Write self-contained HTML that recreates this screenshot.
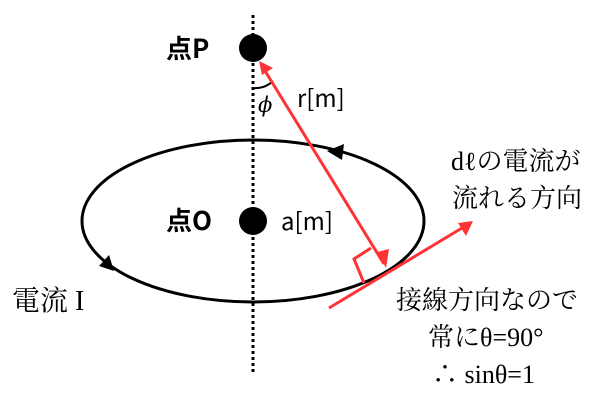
<!DOCTYPE html>
<html><head><meta charset="utf-8"><style>
html,body{margin:0;padding:0;background:#fff;width:605px;height:405px;overflow:hidden}
</style></head><body>
<svg width="605" height="405" viewBox="0 0 605 405" xmlns="http://www.w3.org/2000/svg">
<line x1="253" y1="15" x2="253" y2="372" stroke="#000" stroke-width="3" stroke-dasharray="3,3"/>
<ellipse cx="253" cy="221" rx="171" ry="81" fill="none" stroke="#000" stroke-width="3"/>
<path d="M327,151 L344,144 L342,160 z" fill="#000"/>
<path d="M114,271 L99,266 L109,255 z" fill="#000"/>
<circle cx="253" cy="48" r="14" fill="#000"/>
<circle cx="253" cy="221" r="14" fill="#000"/>
<path d="M253,88 A26,26 0 0 0 273,81" fill="none" stroke="#000" stroke-width="2"/>
<line x1="384" y1="264" x2="262" y2="66" stroke="#ff3333" stroke-width="3"/>
<path d="M259,61 L273,68 L262,75 z" fill="#ff3333"/>
<path d="M386,268 L377,252 L389,249 z" fill="#ff3333"/>
<line x1="329" y1="308" x2="462" y2="228" stroke="#ff3333" stroke-width="3"/>
<path d="M473,221 L458,223 L466,236 z" fill="#ff3333"/>
<polyline points="371,248 354,259 364,283" fill="none" stroke="#ff3333" stroke-width="3"/>
<g font-family="'Noto Sans CJK JP','Liberation Sans',sans-serif" fill="#000">
<text x="166" y="58" font-size="26" font-weight="bold">点P</text>
<text x="166" y="230" font-size="26" font-weight="bold">点O</text>
<text x="297" y="107" font-size="24">r[m]</text>
<text x="281" y="230" font-size="24">a[m]</text>
<text x="258" y="112" font-size="21" font-style="italic" font-family="'DejaVu Serif',serif">ϕ</text>
</g>
<g font-family="'Liberation Serif','Noto Serif CJK SC',serif" fill="#000">
<text x="12" y="310" font-size="28">電流 I</text>
<text x="451" y="170" font-size="26">dℓの電流が</text>
<text x="452" y="207" font-size="26">流れる方向</text>
<text x="396" y="309" font-size="26">接線方向なので</text>
<text x="428" y="346" font-size="26">常にθ=90°</text>
<text x="432" y="383" font-size="26">∴ sinθ=1</text>
</g>
</svg>
</body></html>
